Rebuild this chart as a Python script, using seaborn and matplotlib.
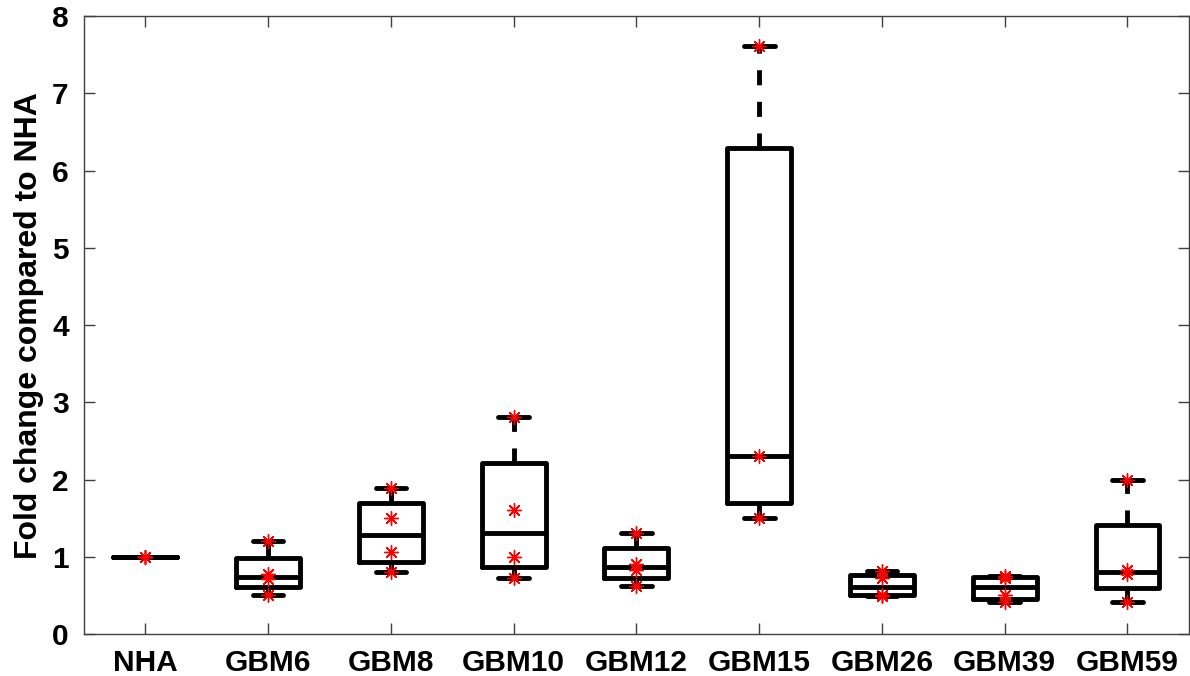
import numpy as np
import pandas as pd
import seaborn as sns
import matplotlib
matplotlib.use("Agg")
import matplotlib.pyplot as plt

# values (fold change compared to NHA)
lines = ["NHA", "GBM6", "GBM8", "GBM10", "GBM12", "GBM15", "GBM26", "GBM39", "GBM59"]
nha = [1.0, 1.0, 1.0]
gbm6 = [0.50, 0.71, 0.78, 1.20]
gbm8 = [0.81, 1.06, 1.50, 1.89]
gbm10 = [0.73, 1.00, 1.61, 2.81]
gbm12 = [0.62, 0.83, 0.91, 1.31]
gbm15 = [1.50, 2.30, 7.62]
gbm26 = [0.49, 0.51, 0.72, 0.82]
gbm39 = [0.41, 0.50, 0.72, 0.75]
gbm59 = [0.42, 0.78, 0.83, 2.00]
yticks = [0, 1, 2, 3, 4, 5, 6, 7, 8]

groups = [nha, gbm6, gbm8, gbm10, gbm12, gbm15, gbm26, gbm39, gbm59]
df = pd.DataFrame({
    "line": np.repeat(lines, [len(g) for g in groups]),
    "fold": np.concatenate(groups),
})

sns.set_style("ticks")
plt.rcParams["font.family"] = ["Liberation Sans", "DejaVu Sans"]
plt.rcParams["font.weight"] = "bold"
plt.rcParams["text.color"] = "black"
plt.rcParams["axes.labelcolor"] = "black"
plt.rcParams["xtick.labelcolor"] = "black"
plt.rcParams["ytick.labelcolor"] = "black"

fig = plt.figure(figsize=(11.9, 6.76), dpi=100)
ax = fig.add_axes([0.0706, 0.062, 0.9284, 0.914])

# MATLAB style quartiles (hazen) for the boxes
stats = []
for name, g in zip(lines, groups):
    g = np.sort(np.asarray(g))
    q1, med, q3 = np.percentile(g, [25, 50, 75], method="hazen")
    iqr = q3 - q1
    lo = g[g >= q1 - 1.5 * iqr].min()
    hi = g[g <= q3 + 1.5 * iqr].max()
    stats.append(dict(label=name, q1=q1, med=med, q3=q3, whislo=lo, whishi=hi, fliers=[]))

lw = 3.5
ax.bxp(stats, positions=range(len(lines)), widths=0.52, capwidths=0.25,
       showfliers=False, manage_ticks=False,
       boxprops=dict(color="black", linewidth=lw),
       medianprops=dict(color="black", linewidth=lw),
       whiskerprops=dict(color="black", linewidth=lw, linestyle=(0, (3.1, 3.4))),
       capprops=dict(color="black", linewidth=lw))

sns.stripplot(data=df, x="line", y="fold", order=lines, jitter=False,
              marker=(8, 2, 0), color="red", edgecolor="red", linewidth=1.0,
              size=10, zorder=5, ax=ax)

ax.set_xlim(-0.5, len(lines) - 0.5)
ax.set_ylim(0, 8)
ax.set_yticks(yticks)
ax.set_xticks(range(len(lines)))
ax.set_xticklabels(lines)
ax.set_xlabel("")
ax.set_ylabel("Fold change compared to NHA", fontsize=23, fontweight="bold", labelpad=6)
ax.tick_params(direction="in", top=True, right=True, length=8, width=1, color="#404040",
               labelsize=21.5, pad=11)
for lab in ax.get_xticklabels() + ax.get_yticklabels():
    lab.set_fontweight("bold")
for sp in ax.spines.values():
    sp.set_color("#404040")
    sp.set_linewidth(1)
    sp.set_visible(True)

fig.savefig("out.png", dpi=100)
